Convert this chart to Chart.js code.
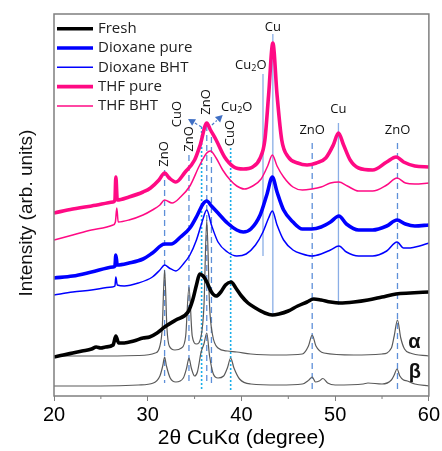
<!DOCTYPE html>
<html>
<head>
<meta charset="utf-8">
<script src="https://cdn.jsdelivr.net/npm/chart.js@4.4.1/dist/chart.umd.min.js"></script>
<style>
  html, body { margin: 0; padding: 0; background: #fff; }
</style>
</head>
<body>
<canvas id="xrd" width="442" height="451"></canvas>
<script>
// 2theta (deg), intensity (arb. units)
const fresh = [
  [20, 39], [21, 41], [22, 43], [23, 45], [24, 47], [24.5, 49], [25, 48], [25.5, 49], [26.3, 51], [26.6, 60],
  [26.9, 53], [27.5, 53], [28.5, 55], [29.5, 58], [30.2, 59], [31, 63], [31.8, 69], [33, 76], [34.3, 84],
  [34.8, 96], [35.2, 111], [35.55, 122], [36, 119], [36.3, 114], [36.8, 104], [37.3, 100], [37.8, 104],
  [38.3, 111], [38.9, 114], [39.4, 108], [40, 100], [40.7, 93], [41.5, 88], [42.5, 83], [43.3, 81], [44, 82],
  [45, 85], [46, 90], [47, 94], [47.7, 97], [48.5, 96], [49.5, 94], [50.5, 93], [52, 94], [53.5, 96],
  [55, 99], [56.5, 102], [58, 103], [60, 104],
];
const dioxanePure = [
  [20, 118], [22, 120], [24, 124], [26.3, 129], [26.5, 130], [26.6, 141], [26.75, 131], [28, 133], [29.5, 137],
  [30.5, 143], [31.8, 152], [32.5, 152], [33.5, 159], [34.5, 168], [35.3, 181], [35.9, 192], [36.3, 195],
  [36.8, 190], [37.5, 183], [38.5, 173], [39.5, 166], [40.2, 164], [41, 167], [42, 181], [42.7, 201],
  [43.3, 219], [43.8, 204], [44.5, 186], [45.5, 174], [46.5, 167], [47.5, 167], [48.5, 169], [49.5, 174],
  [50.4, 180], [51.2, 172], [52.5, 166], [54, 166], [55.5, 170], [56.6, 176], [57.5, 172], [58.5, 170], [60, 171],
];
const dioxaneBht = [
  [20, 101], [22, 104], [24, 106], [26.2, 109], [26.5, 110], [26.6, 119], [26.75, 111], [27.5, 110], [29, 113],
  [30.5, 119], [31.3, 126], [31.8, 131], [32.3, 128], [33, 125], [33.8, 132], [34.5, 141], [35.2, 156],
  [35.8, 174], [36.3, 186], [36.8, 171], [37.5, 154], [38.5, 144], [39.5, 140], [40.5, 142], [41.5, 151],
  [42.3, 164], [42.9, 178], [43.3, 185], [43.8, 171], [44.5, 156], [45.5, 146], [46.5, 142], [47.5, 140],
  [48.5, 142], [49.5, 146], [50.4, 150], [51.2, 144], [52.5, 140], [54, 140], [55.5, 145], [56.6, 154],
  [57.3, 148], [58, 148], [59, 150], [60, 153],
];
const thfPure = [
  [20, 183], [22, 187], [24, 190], [26.3, 194], [26.5, 196], [26.6, 219], [26.75, 196], [28, 199], [29.5, 204],
  [30.3, 208], [31.2, 216], [31.8, 223], [32.3, 218], [33, 214], [34, 224], [35, 236], [35.6, 251], [36.3, 273],
  [36.7, 266], [37.3, 256], [38.2, 239], [39.2, 229], [40.2, 227], [41.2, 229], [42, 238], [42.5, 256],
  [42.9, 301], [43.35, 353], [43.8, 301], [44.3, 256], [45, 239], [46, 233], [47, 231], [48, 233], [49, 238],
  [49.8, 251], [50.35, 263], [50.9, 251], [51.6, 236], [52.5, 228], [54, 226], [55.5, 234], [56.5, 239],
  [57.3, 234], [58.5, 230], [60, 229],
];
const thfBht = [
  [20, 156], [22, 161], [24, 166], [26.3, 171], [26.55, 174], [26.7, 188], [26.85, 174], [28, 176], [29.5, 181],
  [30.5, 186], [31.3, 191], [31.8, 196], [32.6, 193], [33.5, 199], [34.5, 210], [35.5, 230], [36.3, 243],
  [36.7, 245], [37.3, 238], [38, 226], [38.8, 216], [39.5, 210], [40.3, 207], [41.2, 210], [42.1, 217],
  [42.8, 230], [43.3, 241], [43.8, 230], [44.5, 219], [45.5, 209], [46.5, 206], [47.5, 207], [48.5, 209],
  [49.5, 213], [50.4, 214], [51.3, 210], [52.5, 205], [54, 205], [55.5, 211], [56.6, 218], [57.5, 213],
  [58.5, 212], [60, 213],
];
const refAlpha = [
  [20, 40], [25, 40], [29, 40.5], [30.8, 43], [31.3, 50], [31.55, 68], [31.8, 126], [32.05, 68], [32.3, 50],
  [32.9, 46], [33.6, 48], [34.05, 60], [34.4, 109], [34.75, 60], [35.2, 52], [35.7, 60], [36, 90], [36.3, 176],
  [36.6, 90], [36.9, 62], [37.5, 48], [38.5, 45], [39.5, 44], [41, 42], [44, 41], [46.5, 42], [47.15, 50],
  [47.55, 61], [47.95, 50], [48.8, 43], [52, 41], [55, 42], [56, 48], [56.3, 60], [56.65, 76], [57, 58],
  [57.4, 47], [58, 43], [60, 40],
];
const refBeta = [
  [20, 10], [25, 10], [29, 11], [30.6, 13], [31.3, 20], [31.6, 30], [31.8, 39], [32, 30], [32.4, 18], [33, 14],
  [33.8, 18], [34.15, 28], [34.4, 38], [34.65, 28], [35, 20], [35.3, 24], [35.7, 44], [36, 52], [36.3, 63],
  [36.6, 40], [37, 22], [37.5, 18], [38.1, 20], [38.5, 28], [38.85, 38], [39.2, 28], [39.8, 17], [41, 12],
  [44, 11], [46.5, 12], [47.2, 16], [47.55, 19], [47.9, 14], [48.3, 15], [48.7, 17.5], [49.2, 13], [50, 11],
  [53, 12], [53.5, 13], [55, 12], [56, 16], [56.3, 21], [56.6, 27], [56.9, 20], [57.3, 16], [57.7, 15],
  [58.5, 12], [60, 10],
];

const seriesNames = ['Fresh', 'Dioxane pure', 'Dioxane BHT', 'THF pure', 'THF BHT'];
const refNames = ['α', 'β'];
const xTicks = [20, 30, 40, 50, 60];

// reference peak markers: position, phase, vertical extent (intensity units)
const refPos = [31.8, 34.4, 36.3, 47.55, 56.65, 35.75, 38.85, 36.8, 42.3, 43.35, 50.35];
const refPhase = ['ZnO', 'ZnO', 'ZnO', 'ZnO', 'ZnO', 'CuO', 'CuO', 'Cu2O', 'Cu2O', 'Cu', 'Cu'];
const refTop = [226, 241, 271, 253, 253, 269, 248, 259, 322, 362, 273];
const refBottom = [13, 11, 11, 3, 3, 6, 6, 11, 140, 81, 91];

// peak labels
const peakText = ['ZnO', 'ZnO', 'CuO', 'ZnO', 'CuO', 'Cu2O', 'Cu2O', 'Cu', 'Cu', 'ZnO', 'ZnO'];
const peakX = [31.8, 34.4, 33.2, 36.3, 38.85, 39.5, 41.0, 43.35, 50.35, 47.55, 56.65];
const peakY = [242, 257, 282, 294, 263, 289, 331, 369, 287, 266, 266];
const peakVertical = [true, true, true, true, true, false, false, false, false, false, false];

const arrowFrom = [[35.75, 269], [36.85, 271]];
const arrowTo = [[34.3, 277], [38.0, 281]];

const toXY = (pts) => pts.map(([x, y]) => ({ x, y }));

const PINK = '#ff0a84';
const BLUE = '#0000ff';
const GRAY = '#5a5a5a';

function lineDataset(label, data, color, width) {
  return {
    label,
    data: toXY(data),
    borderColor: color,
    backgroundColor: color,
    borderWidth: width,
    pointRadius: 0,
    cubicInterpolationMode: 'monotone',
    fill: false,
  };
}

function refLineStyle(phase, pos) {
  if (phase === 'ZnO' || (phase === 'Cu2O' && pos < 40)) return { color: '#5e8fd8', width: 1.3, dash: [6, 4] };
  if (phase === 'CuO') return { color: '#19aee8', width: 1.6, dash: [2, 2] };
  return { color: '#8aaee6', width: 1.3, dash: [] };
}

function drawFormula(ctx, text, cx, cy, vertical) {
  const parts = text.split(/(\d)/).filter(Boolean);
  const big = '13px "Open Sans"';
  const small = '9px "Open Sans"';
  let w = 0;
  parts.forEach((p) => {
    ctx.font = /\d/.test(p) ? small : big;
    w += ctx.measureText(p).width;
  });
  ctx.save();
  ctx.translate(cx, cy);
  if (vertical) ctx.rotate(-Math.PI / 2);
  ctx.textBaseline = 'middle';
  ctx.textAlign = 'left';
  ctx.fillStyle = '#111';
  let cur = -w / 2;
  parts.forEach((p) => {
    const sub = /\d/.test(p);
    ctx.font = sub ? small : big;
    ctx.fillText(p, cur, sub ? 3.5 : 0);
    cur += ctx.measureText(p).width;
  });
  ctx.restore();
}

const xrdOverlay = {
  id: 'xrdOverlay',
  beforeDatasetsDraw(chart) {
    const { ctx, scales: { x, y } } = chart;
    ctx.save();
    refPos.forEach((pos, i) => {
      const st = refLineStyle(refPhase[i], pos);
      const px = x.getPixelForValue(pos);
      ctx.strokeStyle = st.color;
      ctx.lineWidth = st.width;
      ctx.setLineDash(st.dash);
      ctx.beginPath();
      ctx.moveTo(px, y.getPixelForValue(refTop[i]));
      ctx.lineTo(px, y.getPixelForValue(refBottom[i]));
      ctx.stroke();
    });
    ctx.restore();
  },
  afterDraw(chart) {
    const { ctx, chartArea: a, scales: { x, y } } = chart;
    ctx.save();

    // frame + minor ticks
    ctx.strokeStyle = '#7f7f7f';
    ctx.lineWidth = 1.5;
    ctx.strokeRect(a.left, a.top, a.right - a.left, a.bottom - a.top);
    ctx.lineWidth = 1;
    [25, 35, 45, 55].forEach((v) => {
      const px = x.getPixelForValue(v);
      ctx.beginPath();
      ctx.moveTo(px, a.bottom);
      ctx.lineTo(px, a.bottom + 3);
      ctx.stroke();
    });

    // peak labels
    peakText.forEach((t, i) => {
      drawFormula(ctx, t, x.getPixelForValue(peakX[i]), y.getPixelForValue(peakY[i]), peakVertical[i]);
    });

    // arrows
    arrowFrom.forEach(([fx, fy], i) => {
      const x0 = x.getPixelForValue(fx), y0 = y.getPixelForValue(fy);
      const x1 = x.getPixelForValue(arrowTo[i][0]), y1 = y.getPixelForValue(arrowTo[i][1]);
      const ang = Math.atan2(y1 - y0, x1 - x0);
      const hl = 8;
      ctx.strokeStyle = '#4a78c8';
      ctx.fillStyle = '#3f6fc4';
      ctx.lineWidth = 1.2;
      ctx.setLineDash([3, 2]);
      ctx.beginPath();
      ctx.moveTo(x0, y0);
      ctx.lineTo(x1 - hl * Math.cos(ang), y1 - hl * Math.sin(ang));
      ctx.stroke();
      ctx.setLineDash([]);
      ctx.beginPath();
      ctx.moveTo(x1, y1);
      ctx.lineTo(x1 - hl * Math.cos(ang - 0.5), y1 - hl * Math.sin(ang - 0.5));
      ctx.lineTo(x1 - hl * Math.cos(ang + 0.5), y1 - hl * Math.sin(ang + 0.5));
      ctx.closePath();
      ctx.fill();
    });

    // alpha / beta tags
    ctx.fillStyle = '#111';
    ctx.font = 'bold 20px "Liberation Sans"';
    ctx.textAlign = 'center';
    ctx.textBaseline = 'middle';
    ctx.fillText(refNames[0], x.getPixelForValue(58.45), y.getPixelForValue(54));
    ctx.fillText(refNames[1], x.getPixelForValue(58.5), y.getPixelForValue(24));

    // legend
    ctx.font = '15px "Open Sans"';
    ctx.textAlign = 'left';
    chart.data.datasets.slice(0, seriesNames.length).forEach((ds, i) => {
      const ly = a.top + 14.7 + i * 19.3;
      ctx.strokeStyle = ds.borderColor;
      ctx.lineWidth = ds.borderWidth;
      ctx.beginPath();
      ctx.moveTo(a.left + 3, ly);
      ctx.lineTo(a.left + 39, ly);
      ctx.stroke();
      ctx.fillStyle = '#222';
      ctx.fillText(ds.label, a.left + 44, ly);
    });

    // y axis title
    ctx.font = '19px "Liberation Sans"';
    ctx.fillStyle = '#111';
    ctx.textAlign = 'center';
    ctx.translate(27, (a.top + a.bottom) / 2 + 8);
    ctx.rotate(-Math.PI / 2);
    ctx.fillText('Intensity (arb. units)', 0, 0);
    ctx.restore();
  },
};

new Chart(document.getElementById('xrd'), {
  type: 'line',
  data: {
    datasets: [
      lineDataset(seriesNames[0], fresh, '#000000', 3.6),
      lineDataset(seriesNames[1], dioxanePure, BLUE, 3.6),
      lineDataset(seriesNames[2], dioxaneBht, BLUE, 1.5),
      lineDataset(seriesNames[3], thfPure, PINK, 3.6),
      lineDataset(seriesNames[4], thfBht, PINK, 1.5),
      lineDataset(refNames[0], refAlpha, GRAY, 1.2),
      lineDataset(refNames[1], refBeta, GRAY, 1.2),
    ],
  },
  options: {
    responsive: false,
    animation: false,
    devicePixelRatio: 1,
    layout: { padding: { top: 14, right: 13, left: 0, bottom: 0 } },
    plugins: { legend: { display: false }, tooltip: { enabled: false } },
    scales: {
      x: {
        type: 'linear',
        min: 20,
        max: 60,
        afterFit: (s) => { s.height = 55; },
        afterBuildTicks: (s) => { s.ticks = xTicks.map((v) => ({ value: v })); },
        ticks: { color: '#000', font: { family: 'Liberation Sans', size: 20 }, padding: 2 },
        grid: { drawOnChartArea: false, drawTicks: true, tickLength: 5, color: '#7f7f7f' },
        border: { display: false },
        title: {
          display: true,
          text: '2θ CuKα (degree)',
          color: '#000',
          font: { family: 'Liberation Sans', size: 21 },
          padding: { top: 0, bottom: 0 },
        },
      },
      y: {
        min: 0,
        max: 382,
        afterFit: (s) => { s.width = 54; },
        ticks: { display: false },
        grid: { display: false },
        border: { display: false },
      },
    },
  },
  plugins: [xrdOverlay],
});
</script>
</body>
</html>
